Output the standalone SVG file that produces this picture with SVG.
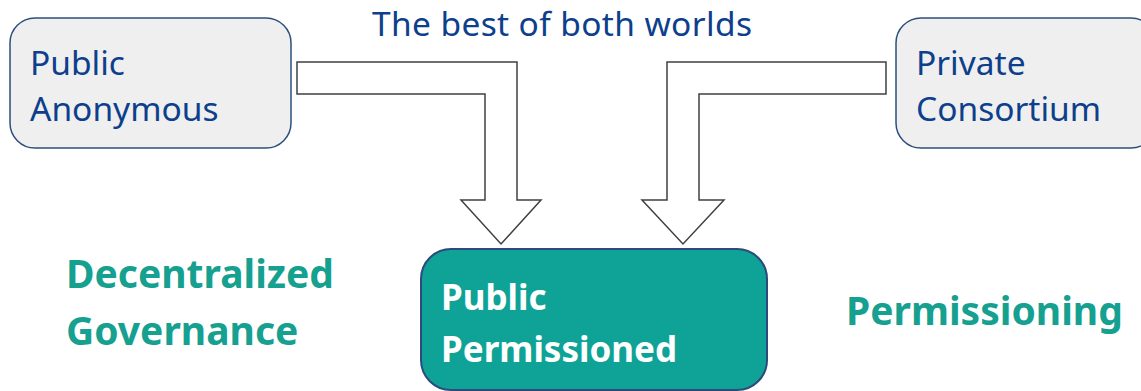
<svg xmlns="http://www.w3.org/2000/svg" width="1141" height="391" viewBox="0 0 1141 391">
<style>
.src{fill:#efefef;stroke:#2d4f7c;stroke-width:1.5}
.dst{fill:#0fa397;stroke:#2d4a7c;stroke-width:2}
.blue{font-family:"Noto Sans","Open Sans",sans-serif;font-size:33.5px;fill:#0d3f8c}
.white{font-family:"Noto Sans","Open Sans",sans-serif;font-size:35px;font-weight:bold;fill:#ffffff}
.teal{font-family:"Noto Sans","Open Sans",sans-serif;font-size:39px;font-weight:bold;fill:#15a08f}
.arrow{fill:#ffffff;stroke:#404040;stroke-width:1.5}
</style>
<rect width="1141" height="391" fill="#ffffff"/>
<text class="blue" x="372" y="36" textLength="380" lengthAdjust="spacing">The best of both worlds</text>
<g id="connectors">
<path class="arrow" d="M297,62 H517 V200 H541 L501,244 L461,200 H485 V94 H297 Z"/>
<path class="arrow" d="M886,62 H667 V200 H642 L683,244 L724,200 H699 V94 H886 Z"/>
</g>
<g id="public-anonymous">
<rect class="src" x="10" y="18" width="281" height="130" rx="25"/>
<text class="blue" x="30" y="75">Public</text>
<text class="blue" x="30" y="121">Anonymous</text>
</g>
<g id="private-consortium">
<rect class="src" x="896" y="18" width="260" height="130" rx="25"/>
<text class="blue" x="916" y="75">Private</text>
<text class="blue" x="916" y="121">Consortium</text>
</g>
<g id="public-permissioned">
<rect class="dst" x="421" y="249" width="346" height="141" rx="30"/>
<text class="white" x="441" y="310">Public</text>
<text class="white" x="441" y="362">Permissioned</text>
</g>
<g id="decentralized-governance">
<text class="teal" x="66" y="288">Decentralized</text>
<text class="teal" x="66" y="345">Governance</text>
</g>
<g id="permissioning">
<text class="teal" x="846" y="325">Permissioning</text>
</g>
</svg>
